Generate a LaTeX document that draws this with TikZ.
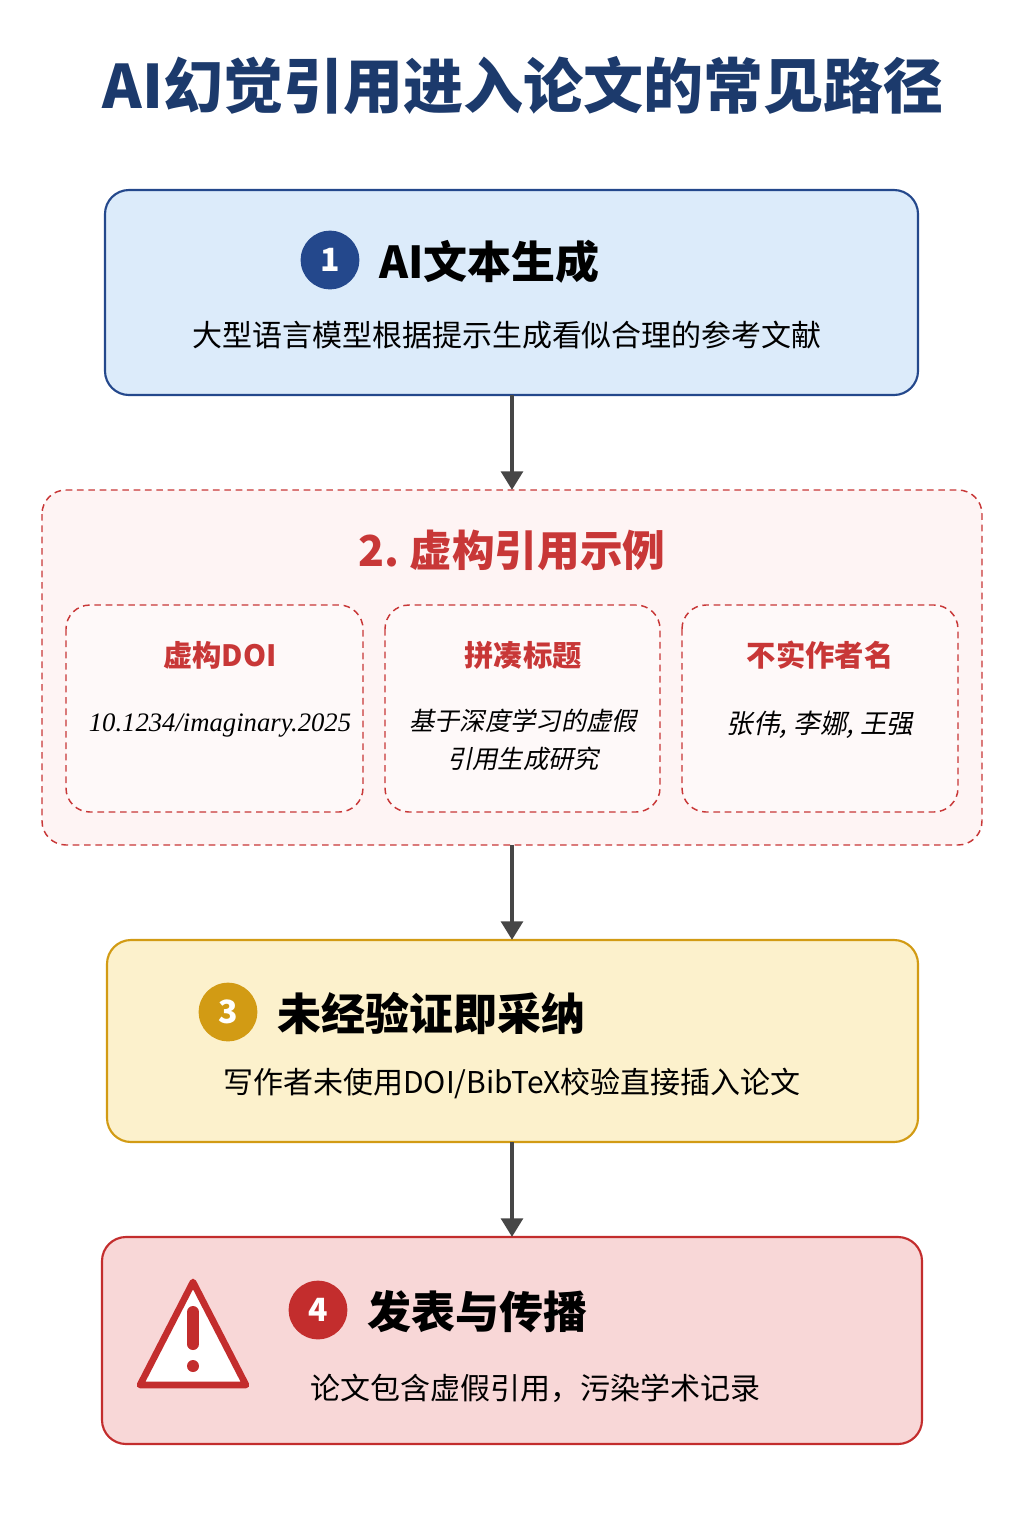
\documentclass[tikz,border=0pt]{standalone}
\usepackage{fontspec}
\setmainfont{Noto Sans CJK SC}
\newfontfamily\slcjk{Noto Sans CJK SC}[FakeSlant=0.2]
\newfontfamily\latserif{Liberation Serif}
\usetikzlibrary{arrows.meta}
\definecolor{titleblue}{RGB}{28,58,108}
\definecolor{stepblue}{RGB}{36,72,140}
\definecolor{fillblue}{RGB}{220,235,250}
\definecolor{fakered}{RGB}{200,55,55}
\definecolor{fillpink}{RGB}{254,244,244}
\definecolor{stepgold}{RGB}{210,155,20}
\definecolor{fillgold}{RGB}{252,241,204}
\definecolor{stepred}{RGB}{195,45,45}
\definecolor{fillred}{RGB}{248,215,215}
\definecolor{arrowgray}{RGB}{70,70,70}
\tikzset{
  stepbox/.style={rounded corners=18pt, line width=1.6pt},
  dashbox/.style={rounded corners=18pt, draw=fakered, dash pattern=on 5pt off 3.5pt, line width=1.1pt},
  stepnum/.style={circle, minimum size=44pt, inner sep=0pt, text=white, font=\bfseries\fontsize{24}{24}\selectfont},
  steptitle/.style={anchor=west, inner sep=0.75pt, font=\bfseries\fontsize{33}{33}\selectfont},
  stepnote/.style={inner sep=0.75pt, font=\fontsize{22.5}{22.5}\selectfont},
  flow/.style={-{Triangle[length=14pt,width=16pt]}, draw=arrowgray, line width=3.5pt},
}
\begin{document}
\begin{tikzpicture}[x=0.75pt,y=0.75pt,yscale=-1,xscale=1]
    \useasboundingbox (0,0) rectangle (1024,1536);

    % Title
    \node (title) at (523,85) [text=titleblue, font=\bfseries\fontsize{45}{45}\selectfont] {AI幻觉引用进入论文的常见路径};

    % Step 1
    \draw [stepbox, draw=stepblue, fill=fillblue] (105,190) rectangle (918,395);
    \node (s1top) at (512,190) {};
    \node (s1bot) at (512,395) {};
    \node (n1) [stepnum, fill=stepblue] at (330,260) {1};
    \node (t1) [steptitle] at (378,262) {AI文本生成};
    \node (d1) [stepnote] at (507,335) {大型语言模型根据提示生成看似合理的参考文献};

    % Step 2
    \draw [dashbox, fill=fillpink] (42,490) rectangle (982,845);
    \node (s2top) at (512,490) {};
    \node (s2bot) at (512,845) {};
    \node (t2) at (512,550) [text=fakered, font=\bfseries\fontsize{32}{32}\selectfont] {2.\ 虚构引用示例};
    \draw [dashbox, fill=white, fill opacity=0.5] (66,605) rectangle (363,812);
    \draw [dashbox, fill=white, fill opacity=0.5] (385,605) rectangle (660,812);
    \draw [dashbox, fill=white, fill opacity=0.5] (682,605) rectangle (958,812);
    \node (doi) at (220,655) [text=fakered, font=\bfseries\fontsize{22}{22}\selectfont] {虚构DOI};
    \node (doitxt) at (220,725) [font=\latserif\itshape\fontsize{20}{20}\selectfont, text=black] {10.1234/imaginary.2025};
    \node (ttl) at (523,655) [text=fakered, font=\bfseries\fontsize{22}{22}\selectfont] {拼凑标题};
    \node (ttltxt) at (523,740) [align=center, font=\slcjk\fontsize{19}{28}\selectfont] {基于深度学习的虚假\\引用生成研究};
    \node (auth) at (820,655) [text=fakered, font=\bfseries\fontsize{22}{22}\selectfont] {不实作者名};
    \node (authtxt) at (820,725) [font=\slcjk\fontsize{20}{20}\selectfont] {张伟, 李娜, 王强};

    % Step 3
    \draw [stepbox, draw=stepgold, fill=fillgold] (107,940) rectangle (918,1142);
    \node (s3top) at (512,940) {};
    \node (s3bot) at (512,1142) {};
    \node (n3) [stepnum, fill=stepgold] at (228,1012) {3};
    \node (t3) [steptitle] at (276,1013) {未经验证即采纳};
    \node (d3) [stepnote] at (512,1083) {写作者未使用DOI/BibTeX校验直接插入论文};

    % Step 4
    \draw [stepbox, draw=stepred, fill=fillred] (102,1237) rectangle (922,1444);
    \node (s4top) at (512,1237) {};
    \draw [line width=5pt, draw=stepred, fill=white, line join=round] (193,1282) -- (246,1385) -- (140,1385) -- cycle;
    \draw [line width=9pt, draw=stepred, line cap=round] (193,1312) -- (193,1344);
    \fill [stepred] (193,1366) circle (6);
    \node (n4) [stepnum, fill=stepred] at (318,1310) {4};
    \node (t4) [steptitle] at (366,1312) {发表与传播};
    \node (d4) [stepnote] at (535,1388) {论文包含虚假引用，污染学术记录};

    % Arrows
    \draw [flow] (s1bot.center) -- (s2top.center);
    \draw [flow] (s2bot.center) -- (s3top.center);
    \draw [flow] (s3bot.center) -- (s4top.center);
\end{tikzpicture}
\end{document}
